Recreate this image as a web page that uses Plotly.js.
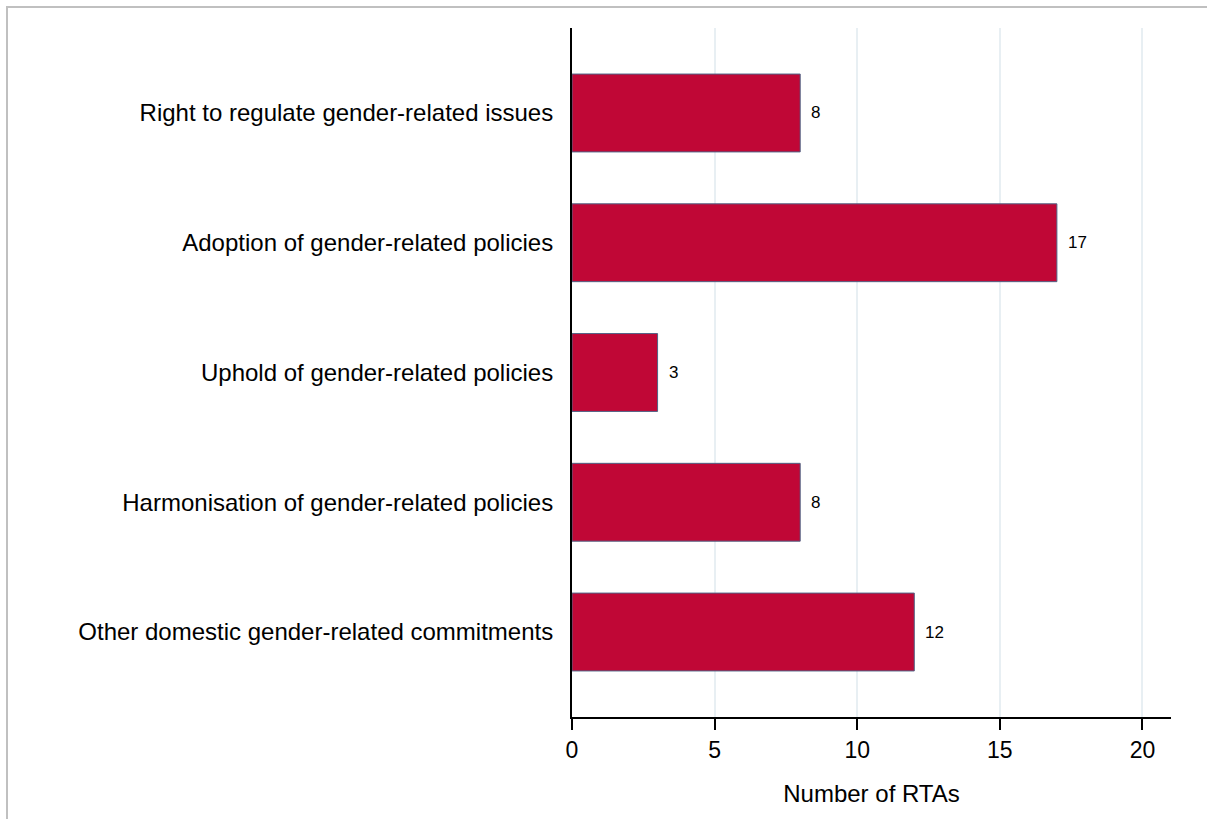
<!DOCTYPE html>
<html>
<head>
<meta charset="utf-8">
<script src="https://cdn.plot.ly/plotly-3.0.1.min.js"></script>
<style>
  html, body { margin: 0; padding: 0; background: #fff; }
  #wrap { position: relative; width: 1207px; height: 819px; overflow: hidden; }
  #chart { position: absolute; left: 0; top: 0; width: 1207px; height: 819px; }
  #frame { position: absolute; left: 6px; top: 6px; width: 1300px; height: 900px;
           border-top: 2px solid #c0c0c0; border-left: 2px solid #c0c0c0; pointer-events: none; }
</style>
</head>
<body>
<div id="wrap">
  <div id="chart"></div>
  <div id="frame"></div>
</div>
<script>
const categories = [
  "Right to regulate gender-related issues",
  "Adoption of gender-related policies",
  "Uphold of gender-related policies",
  "Harmonisation of gender-related policies",
  "Other domestic gender-related commitments"
];
const values = [8, 17, 3, 8, 12];
const xTicks = [0, 5, 10, 15, 20];
const xTitle = "Number of RTAs";

const FONT = "Liberation Sans, Arial, sans-serif";

const trace = {
  type: "bar",
  orientation: "h",
  x: values,
  y: categories,
  width: 0.6,
  marker: { color: "#c00736", line: { color: "#4f6385", width: 1 } },
  hoverinfo: "x+y",
  cliponaxis: false
};

const annotations = values.map((v, i) => ({
  x: v, y: categories[i], xref: "x", yref: "y",
  text: String(v), showarrow: false,
  xanchor: "left", xshift: 9,
  font: { family: FONT, size: 17, color: "#000" }
}));

const layout = {
  width: 1207, height: 819,
  margin: { l: 572, r: 36, t: 28, b: 102, pad: 0 },
  paper_bgcolor: "#ffffff",
  plot_bgcolor: "#ffffff",
  showlegend: false,
  font: { family: FONT, size: 22, color: "#000" },
  bargap: 0.4,
  xaxis: {
    range: [0, 21],
    tickmode: "array",
    tickvals: xTicks,
    ticktext: xTicks.map(String),
    showgrid: true, gridcolor: "#e8eff3", gridwidth: 2,
    zeroline: false,
    showline: true, linecolor: "#000", linewidth: 2,
    ticks: "outside", ticklen: 11, tickwidth: 2, tickcolor: "#000",
    tickfont: { family: FONT, size: 23, color: "#000" },
    title: { text: xTitle, font: { family: FONT, size: 24, color: "#000" }, standoff: 24 },
    fixedrange: true
  },
  yaxis: {
    type: "category",
    categoryorder: "array",
    categoryarray: categories,
    autorange: false,
    range: [4.655, -0.655],
    showgrid: false, zeroline: false,
    showline: true, linecolor: "#000", linewidth: 2,
    ticks: "outside", ticklen: 12, tickcolor: "rgba(0,0,0,0)",
    tickfont: { family: FONT, size: 24, color: "#000" },
    fixedrange: true
  },
  annotations: annotations
};

Plotly.newPlot("chart", [trace], layout, { displayModeBar: false, staticPlot: true });
</script>
</body>
</html>
